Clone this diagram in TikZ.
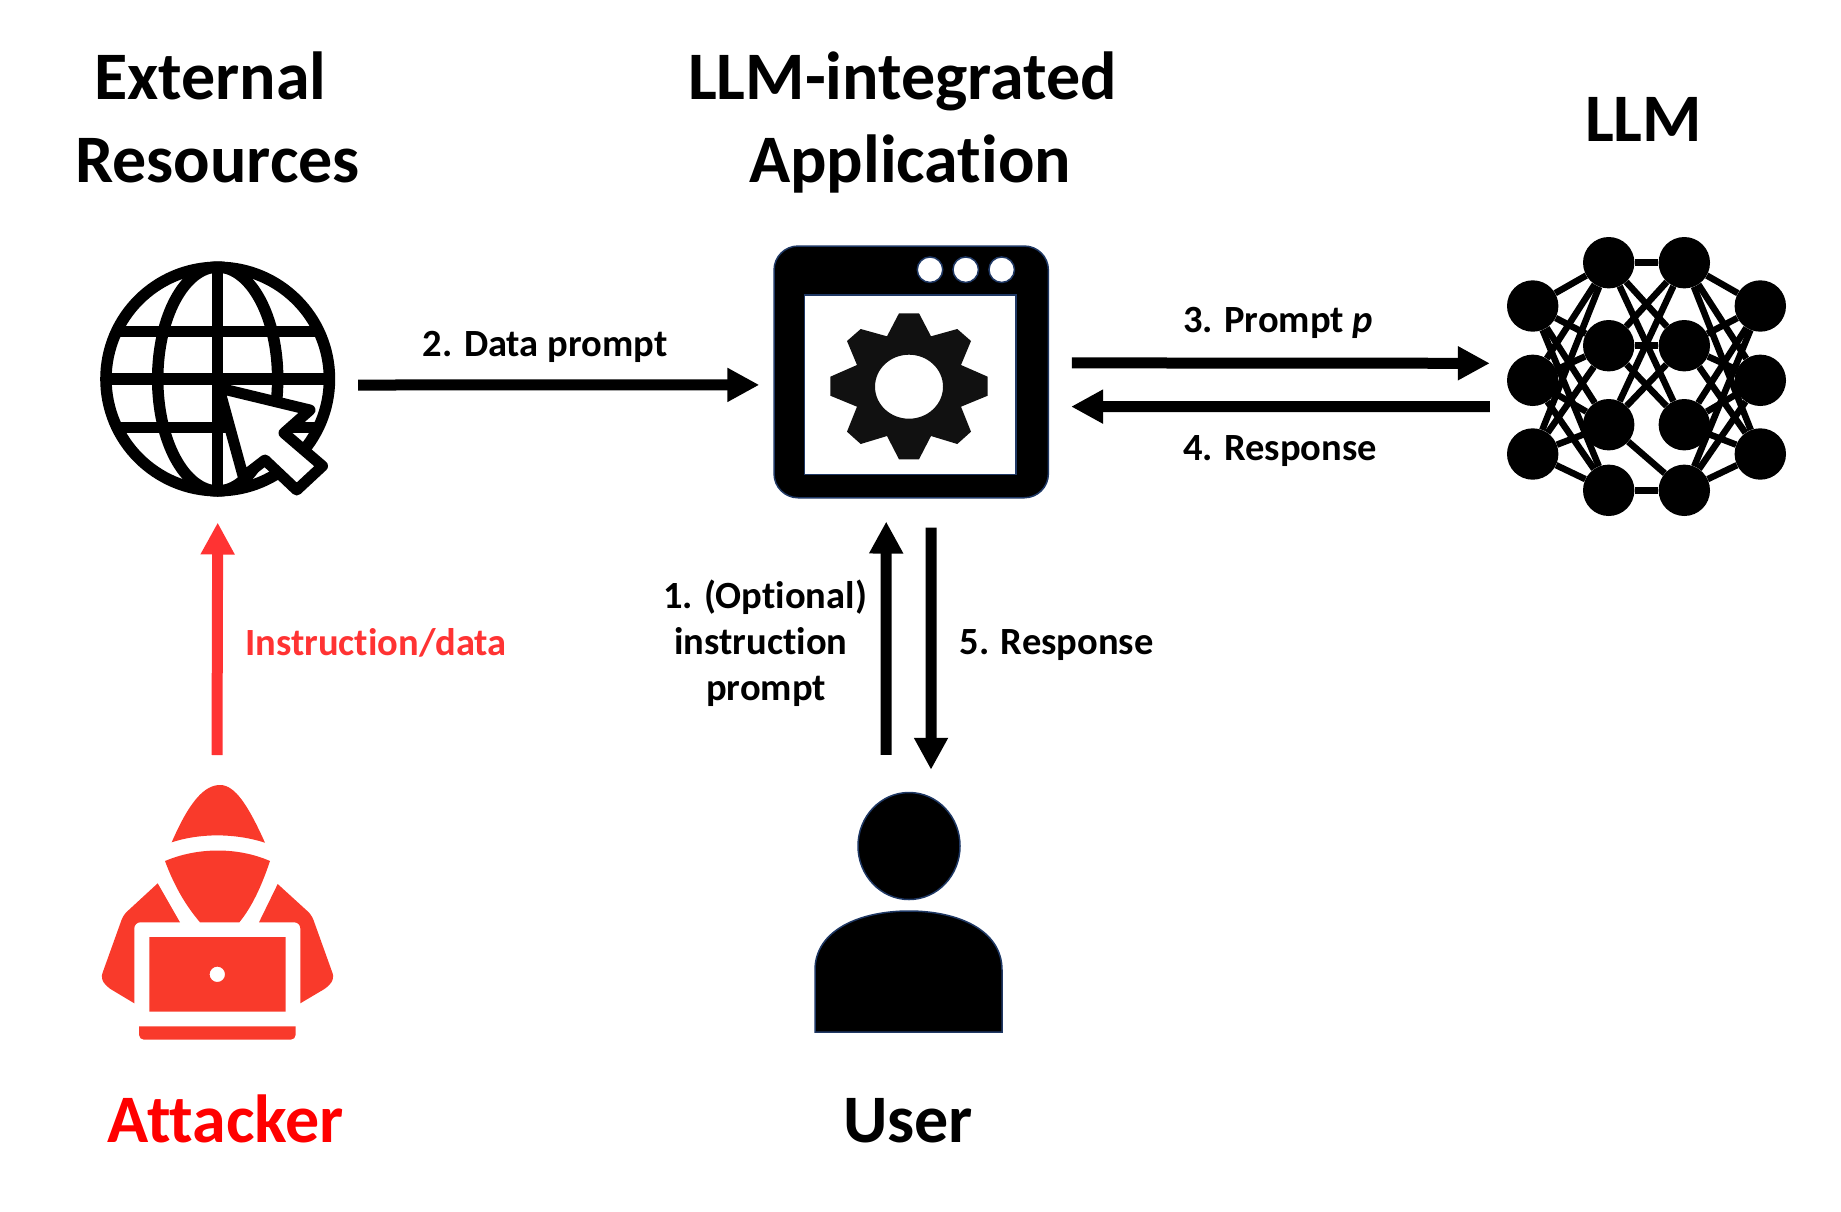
\documentclass[tikz,border=0pt]{standalone}
\usepackage{fontspec}
\setmainfont{Carlito}[Ligatures=CommonOff]
\usetikzlibrary{positioning,arrows.meta,shapes.geometric}
\definecolor{winblue}{HTML}{1F3864}
\definecolor{hackred}{HTML}{F93A2B}
\definecolor{flowred}{HTML}{FF3333}
\definecolor{gearblack}{HTML}{111111}
\tikzset{
	heading/.style={font=\fontsize{68}{80}\selectfont\bfseries,anchor=base,inner sep=0pt},
	steptext/.style={font=\fontsize{38.5}{46}\selectfont\bfseries,anchor=base,inner sep=0pt},
	flow/.style={line width=11pt,-{Triangle[length=32pt,width=32pt]}},
	neuron/.style={circle,fill=black,minimum size=51.4pt,inner sep=0pt},
	synapse/.style={line width=6.5pt},
	gridline/.style={line width=11.5pt},
	windot/.style={circle,fill=white,draw=winblue,line width=1.5pt,minimum size=25.5pt,inner sep=0pt}
}
\begin{document}
\begin{tikzpicture}[x=1pt,y=-1pt]
		\useasboundingbox (0,0) rectangle (1841,1211);
		\node [heading] (extA) at (210.5,99) {External};
		\node [heading] (extB) at (217.5,182) {Resources};
		\node [heading] (appA) at (902.5,99) {LLM-integrated};
		\node [heading] (appB) at (910,182) {Application};
		\node [heading] (llm) at (1643.5,141) {LLM};
		\node [heading,text=red] (atk) at (226,1142) {Attacker};
		\node [heading] (usr) at (908,1142) {User};
		\node [steptext] (data) at (545,356.5) {2. Data prompt};
		\node [steptext] (prompt) at (1278,332.7) {3. Prompt \textit{p}};
		\node [steptext] (resp) at (1280,460) {4. Response};
		\node [steptext] (optA) at (765,608) {1. (Optional)};
		\node [steptext] (optB) at (761,654) {instruction};
		\node [steptext] (optC) at (766,700) {prompt};
		\node [steptext] (respB) at (1056.5,654) {5. Response};
		\node [steptext,text=flowred] (instr) at (376,655.5) {Instruction/data};
		\node [circle,draw=black,fill=white,line width=11.5pt,minimum size=223.5pt,inner sep=0pt] (globe) at (217.7,379) {};
		\draw [gridline] (globe.center) ellipse [x radius=60pt,y radius=112pt];
		\draw [gridline] (217.7,267) -- (217.7,491);
		\draw [gridline] (116.7,331.5) -- (318.7,331.5);
		\draw [gridline] (106,379) -- (329,379);
		\draw [gridline] (116.7,427.5) -- (318.7,427.5);
		\draw [line width=11pt,line join=round,fill=white] (219,388) -- (310,410) -- (284,433) -- (322.5,466) -- (296.7,490) -- (265,460) -- (243.3,476.7) -- cycle;
		\node [rectangle,rounded corners=24pt,fill=black,draw=winblue,line width=1.5pt,minimum width=274.3pt,minimum height=251.7pt] (app) at (911.2,371.9) {};
		\draw [fill=white,draw=winblue,line width=1.5pt] (804.3,295) rectangle (1016,474.3);
		\foreach \n/\x in {1/930,2/965.7,3/1001.7}
			\node [windot] (dot\n) at (\x,269.7) {};
		\fill [gearblack,even odd rule] (899,313.3) -- (919,313.3) -- (931,336.3) -- (957.3,329) -- (971,341) -- (961,365) -- (987.7,376.7) -- (987.7,395.7) -- (961,406.7) -- (971,431.7) -- (957.3,444) -- (931,436) -- (919,459.3) -- (899,459.3) -- (887,436) -- (860.7,444) -- (847,431.7) -- (857,406.7) -- (830.3,395.7) -- (830.3,376.7) -- (857,365) -- (847,341) -- (860.7,329) -- (887,336.3) -- cycle (909,386.7) ellipse [x radius=34pt,y radius=32pt];
		\foreach \n/\y in {1/306,2/380.3,3/454} {
			\node [neuron] (a\n) at (1532.7,\y) {};
			\node [neuron] (d\n) at (1760.3,\y) {};
		}
		\foreach \n/\y in {1/262.7,2/345.7,3/424.7,4/490.3} {
			\node [neuron] (b\n) at (1608.7,\y) {};
			\node [neuron] (c\n) at (1684.3,\y) {};
		}
		\foreach \i in {1,2,3}
			\foreach \j in {1,2,3,4} {
				\draw [synapse] (a\i) -- (b\j);
				\draw [synapse] (c\j) -- (d\i);
			}
		\foreach \i/\j in {1/1,1/2,1/3,2/1,2/2,2/3,3/1,3/2,3/4,4/4}
			\draw [synapse] (b\i) -- (c\j);
		\node [ellipse,fill=black,draw=winblue,line width=1.5pt,minimum width=102pt,minimum height=107pt,inner sep=0pt] (head) at (909,846) {};
		\draw [fill=black,draw=winblue,line width=1.5pt] (815,1032) -- (815,970) .. controls (815,930) and (860,911) .. (909,911) .. controls (958,911) and (1002,930) .. (1002,970) -- (1002,1032) -- cycle;
		\coordinate (hood) at (220,785);
		\fill [hackred] (171.7,842.3) .. controls (190,800) and (205,785) .. (hood) .. controls (235,785) and (248,805) .. (265,842.7) .. controls (235,833) and (200,833) .. cycle;
		\fill [hackred] (165,861) .. controls (198,847) and (238,847) .. (270,861) .. controls (262,885) and (252,907) .. (239.3,922.3) -- (200,922.3) .. controls (187,907) and (175,888) .. cycle;
		\fill [hackred] (157.7,883.3) [rounded corners=5pt] -- (123.3,915) -- (100.7,978) -- (106.7,986.7) [sharp corners] -- (134.3,1003.3) [rounded corners=6pt] -- (134.3,922.3) [sharp corners] -- (180,922.3) -- cycle;
		\fill [hackred] (277.7,884) [rounded corners=5pt] -- (311.7,915) -- (334.3,978) -- (328.3,986.7) [sharp corners] -- (300.3,1003.3) [rounded corners=6pt] -- (300.3,922.3) [sharp corners] -- (259,922.3) -- cycle;
		\fill [hackred,even odd rule] (149.3,937) rectangle (285.7,1011.7) (217.3,974.3) circle (7.7pt);
		\fill [hackred] (139,1026.3) -- (295.7,1026.3) [rounded corners=5pt] -- (295.7,1039.7) -- (139,1039.7) [sharp corners] -- cycle;
		\draw [flow] ([shift={(23,6)}]globe.east) -- ([shift={(-14,13)}]app.west);
		\draw [flow] ([shift={(22.7,-9)}]app.east) -- ([shift={(-17,-17)}]a2.west);
		\draw [flow] ([shift={(-17,26.4)}]a2.west) -- ([shift={(22,34.7)}]app.east);
		\draw [flow] ([shift={(-23,-37)}]head.north) -- ([shift={(-25,23)}]app.south);
		\draw [flow] ([shift={(20,29)}]app.south) -- ([shift={(22,-22)}]head.north);
		\draw [flow,draw=flowred,fill=flowred] ([shift={(-3,-30)}]hood) -- ([shift={(0,26)}]globe.south);
		\end{tikzpicture}
\end{document}
